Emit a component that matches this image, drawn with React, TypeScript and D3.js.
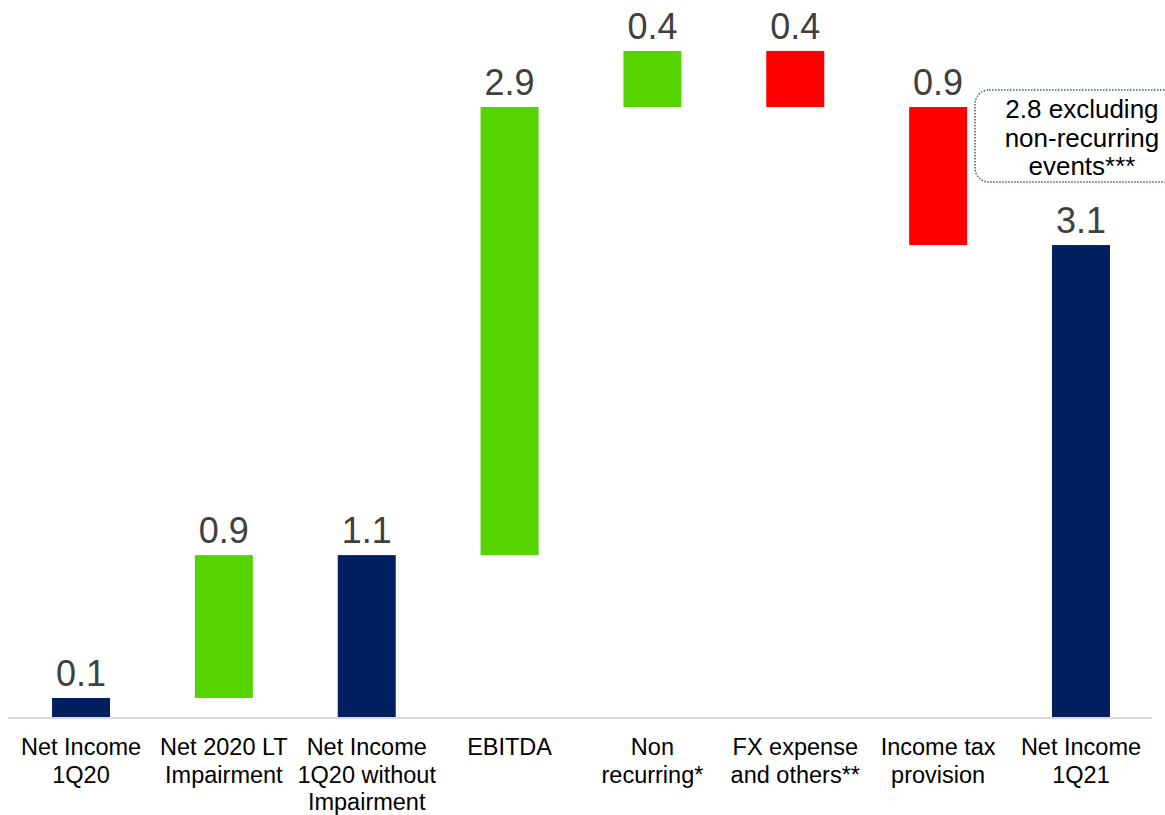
import React from "react";
import * as d3 from "d3";

const categories = [
  "Net Income\n1Q20",
  "Net 2020 LT\nImpairment",
  "Net Income\n1Q20 without\nImpairment",
  "EBITDA",
  "Non\nrecurring*",
  "FX expense\nand others**",
  "Income tax\nprovision",
  "Net Income\n1Q21",
];
// kind: total bars start at zero, deltas float on the running total
const kinds = ["total", "increase", "total", "increase", "increase", "decrease", "decrease", "total"];
const values = [0.125, 0.94, 1.065, 2.948, 0.369, -0.369, -0.908, 3.105];
const annotationLines = ["2.8 excluding", "non-recurring", "events***"];

const W = 1165;
const H = 815;
const COLORS: Record<string, string> = {
  total: "#002060",
  increase: "#55D400",
  decrease: "#FF0000",
};

export default function App() {
  const x = d3
    .scaleBand<string>()
    .domain(categories)
    .range([9.6, 1152.4])
    .paddingInner(0.594)
    .paddingOuter(0.297);
  const y = d3.scaleLinear().domain([0, 4.7]).range([717, 717 - 4.7 * 152]);

  let running = 0;
  const bars = categories.map((c, i) => {
    const k = kinds[i];
    const v = values[i];
    let start: number, end: number;
    if (k === "total") {
      start = 0;
      end = v;
      running = v;
    } else {
      start = running;
      end = running + v;
      running = end;
    }
    const top = Math.max(start, end);
    const bottom = Math.min(start, end);
    return { c, k, v, top, bottom };
  });
  const fmt = d3.format(".1f");
  const lastX = (x(categories[categories.length - 1]) ?? 0) + x.bandwidth() / 2;

  return (
    <svg
      width={W}
      height={H}
      style={{ position: "absolute", left: 0, top: 0, background: "#fff" }}
      fontFamily="'Liberation Sans', Arial, sans-serif"
    >
      <line x1={8} x2={1152} y1={y(0) + 1} y2={y(0) + 1} stroke="#d9d9d9" strokeWidth={2} />
      {bars.map((b) => {
        const bx = x(b.c) ?? 0;
        const cx = bx + x.bandwidth() / 2;
        return (
          <g key={b.c}>
            <rect
              x={bx}
              y={y(b.top)}
              width={x.bandwidth()}
              height={y(b.bottom) - y(b.top)}
              fill={COLORS[b.k]}
            />
            <text x={cx} y={y(b.top) - 12} textAnchor="middle" fontSize={36} fill="#404040">
              {fmt(Math.abs(b.v))}
            </text>
            <text textAnchor="middle" fontSize={23.5} fill="#000">
              {b.c.split("\n").map((ln, j) => (
                <tspan key={j} x={cx} y={755 + j * 27.5}>
                  {ln}
                </tspan>
              ))}
            </text>
          </g>
        );
      })}
      <rect
        x={975}
        y={90}
        width={220}
        height={92}
        rx={14}
        fill="none"
        stroke="#3a6464"
        strokeWidth={1.5}
        strokeDasharray="1.5 1.5"
      />
      <text textAnchor="middle" fontSize={26} fill="#000">
        {annotationLines.map((ln, j) => (
          <tspan key={j} x={lastX + 1} y={118 + j * 28.5}>
            {ln}
          </tspan>
        ))}
      </text>
    </svg>
  );
}
